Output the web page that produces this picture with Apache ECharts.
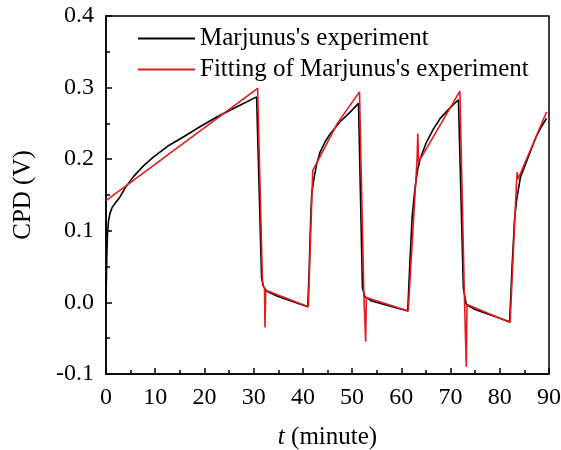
<!DOCTYPE html>
<html>
<head>
<meta charset="utf-8">
<script src="https://cdn.jsdelivr.net/npm/echarts@6/dist/echarts.min.js"></script>
<style>html,body{margin:0;padding:0;background:#fff;}#c{width:561px;height:450px;}</style>
</head>
<body>
<div id="c"></div>
<script>
// Experiment (black): [t (minute), CPD (V)]
var expT = [0, 0.15, 0.3, 0.5, 0.8, 1.2, 1.8, 2.8, 4.0, 5.5, 7.5, 9.6, 12.5, 15.7, 19.0, 22.5, 26.5, 30.6,
  31.6, 32.0, 32.6, 34.7, 41.0,
  41.3, 41.6, 41.8, 42.3, 42.8, 43.5, 44.5, 45.5, 47.5, 49.5, 51.3,
  52.1, 52.6, 54.0, 61.3,
  61.7, 62.2, 62.8, 63.3, 63.8, 65.0, 66.5, 67.9, 69.8, 71.6,
  72.6, 73.2, 75.0, 82.0,
  82.5, 83.0, 83.4, 84.2, 85.5, 86.5, 87.5, 88.5, 89.5];
var expV = [0.0, 0.06, 0.096, 0.113, 0.124, 0.132, 0.138, 0.147, 0.161, 0.175, 0.19, 0.203, 0.218, 0.231, 0.245, 0.259, 0.273, 0.287,
  0.035, 0.022, 0.016, 0.009, -0.006,
  0.05, 0.12, 0.152, 0.175, 0.193, 0.21, 0.224, 0.235, 0.252, 0.265, 0.278,
  0.02, 0.008, 0.002, -0.012,
  0.05, 0.12, 0.161, 0.185, 0.2, 0.222, 0.242, 0.257, 0.271, 0.283,
  0.02, -0.003, -0.01, -0.027,
  0.05, 0.115, 0.142, 0.175, 0.198, 0.216, 0.233, 0.246, 0.257];
// Fitting (red)
var fitT = [0, 30.8, 31.8, 32.2, 32.3, 32.45, 41.1, 42.0, 47.0, 51.5,
  52.4, 52.75, 52.9, 61.4, 63.2, 63.35, 63.5, 71.9,
  72.8, 73.2, 73.35, 82.1, 83.4, 83.55, 83.7, 89.5];
var fitV = [0.142, 0.299, 0.025, 0.02, -0.035, 0.017, -0.006, 0.184, 0.25, 0.294,
  0.008, -0.055, 0.007, -0.012, 0.2, 0.236, 0.196, 0.295,
  0.012, -0.09, -0.003, -0.028, 0.168, 0.182, 0.172, 0.266];
var seriesNames = ["Marjunus's experiment", "Fitting of Marjunus's experiment"];
var xTicks = [0, 10, 20, 30, 40, 50, 60, 70, 80, 90];
var yTicks = [-0.1, 0.0, 0.1, 0.2, 0.3, 0.4];

function zip(a, b) { return a.map(function (v, i) { return [v, b[i]]; }); }

var FONT = '"Liberation Serif", "Times New Roman", serif';
var chart = echarts.init(document.getElementById('c'), null, {renderer: 'canvas'});
chart.setOption({
  animation: false,
  backgroundColor: '#fff',
  grid: {left: 106, right: 12, top: 16, bottom: 76, containLabel: false, outerBoundsMode: 'none',
    show: true, borderColor: '#000', borderWidth: 1.5, backgroundColor: 'transparent'},
  legend: {
    left: 133, top: 21, orient: 'vertical',
    itemWidth: 57, itemHeight: 2, itemGap: 6,
    textStyle: {fontFamily: FONT, fontSize: 25, color: '#000', lineHeight: 25},
    data: [
      {name: seriesNames[0], icon: 'rect', itemStyle: {color: '#000'}},
      {name: seriesNames[1], icon: 'rect', itemStyle: {color: '#e41a1c'}}
    ]
  },
  xAxis: {
    type: 'value', min: xTicks[0], max: xTicks[xTicks.length - 1], interval: 10,
    axisLine: {onZero: false, lineStyle: {color: '#000', width: 1.5}},
    axisTick: {inside: true, length: 6, lineStyle: {color: '#000', width: 1.5}},
    minorTick: {show: true, splitNumber: 2, length: 4, lineStyle: {color: '#000', width: 1.5}},
    splitLine: {show: false},
    axisLabel: {fontFamily: FONT, fontSize: 24, color: '#000', margin: 12},
    name: '{i|t} (minute)', nameLocation: 'middle', nameGap: 51,
    nameTextStyle: {fontFamily: FONT, fontSize: 25, color: '#000', rich: {i: {fontFamily: FONT, fontSize: 25, fontStyle: 'italic', color: '#000'}}}
  },
  yAxis: {
    type: 'value', min: yTicks[0], max: yTicks[yTicks.length - 1], interval: 0.1,
    axisLine: {onZero: false, lineStyle: {color: '#000', width: 1.5}},
    axisTick: {inside: true, length: 6, lineStyle: {color: '#000', width: 1.5}},
    minorTick: {show: true, splitNumber: 2, length: 4, lineStyle: {color: '#000', width: 1.5}},
    splitLine: {show: false},
    axisLabel: {fontFamily: FONT, fontSize: 24, color: '#000', margin: 12, formatter: function (v) { return v.toFixed(1); }},
    name: 'CPD (V)', nameLocation: 'middle', nameGap: 70,
    nameTextStyle: {fontFamily: FONT, fontSize: 25, color: '#000'}
  },
  series: [
    {name: seriesNames[0], type: 'line', data: zip(expT, expV), showSymbol: false, symbol: 'none', smooth: false,
     lineStyle: {color: '#000', width: 1.6}, itemStyle: {color: '#000'}, z: 2},
    {name: seriesNames[1], type: 'line', data: zip(fitT, fitV), showSymbol: false, symbol: 'none', smooth: false,
     lineStyle: {color: '#e41a1c', width: 1.6}, itemStyle: {color: '#e41a1c'}, z: 3}
  ]
});
</script>
</body>
</html>
